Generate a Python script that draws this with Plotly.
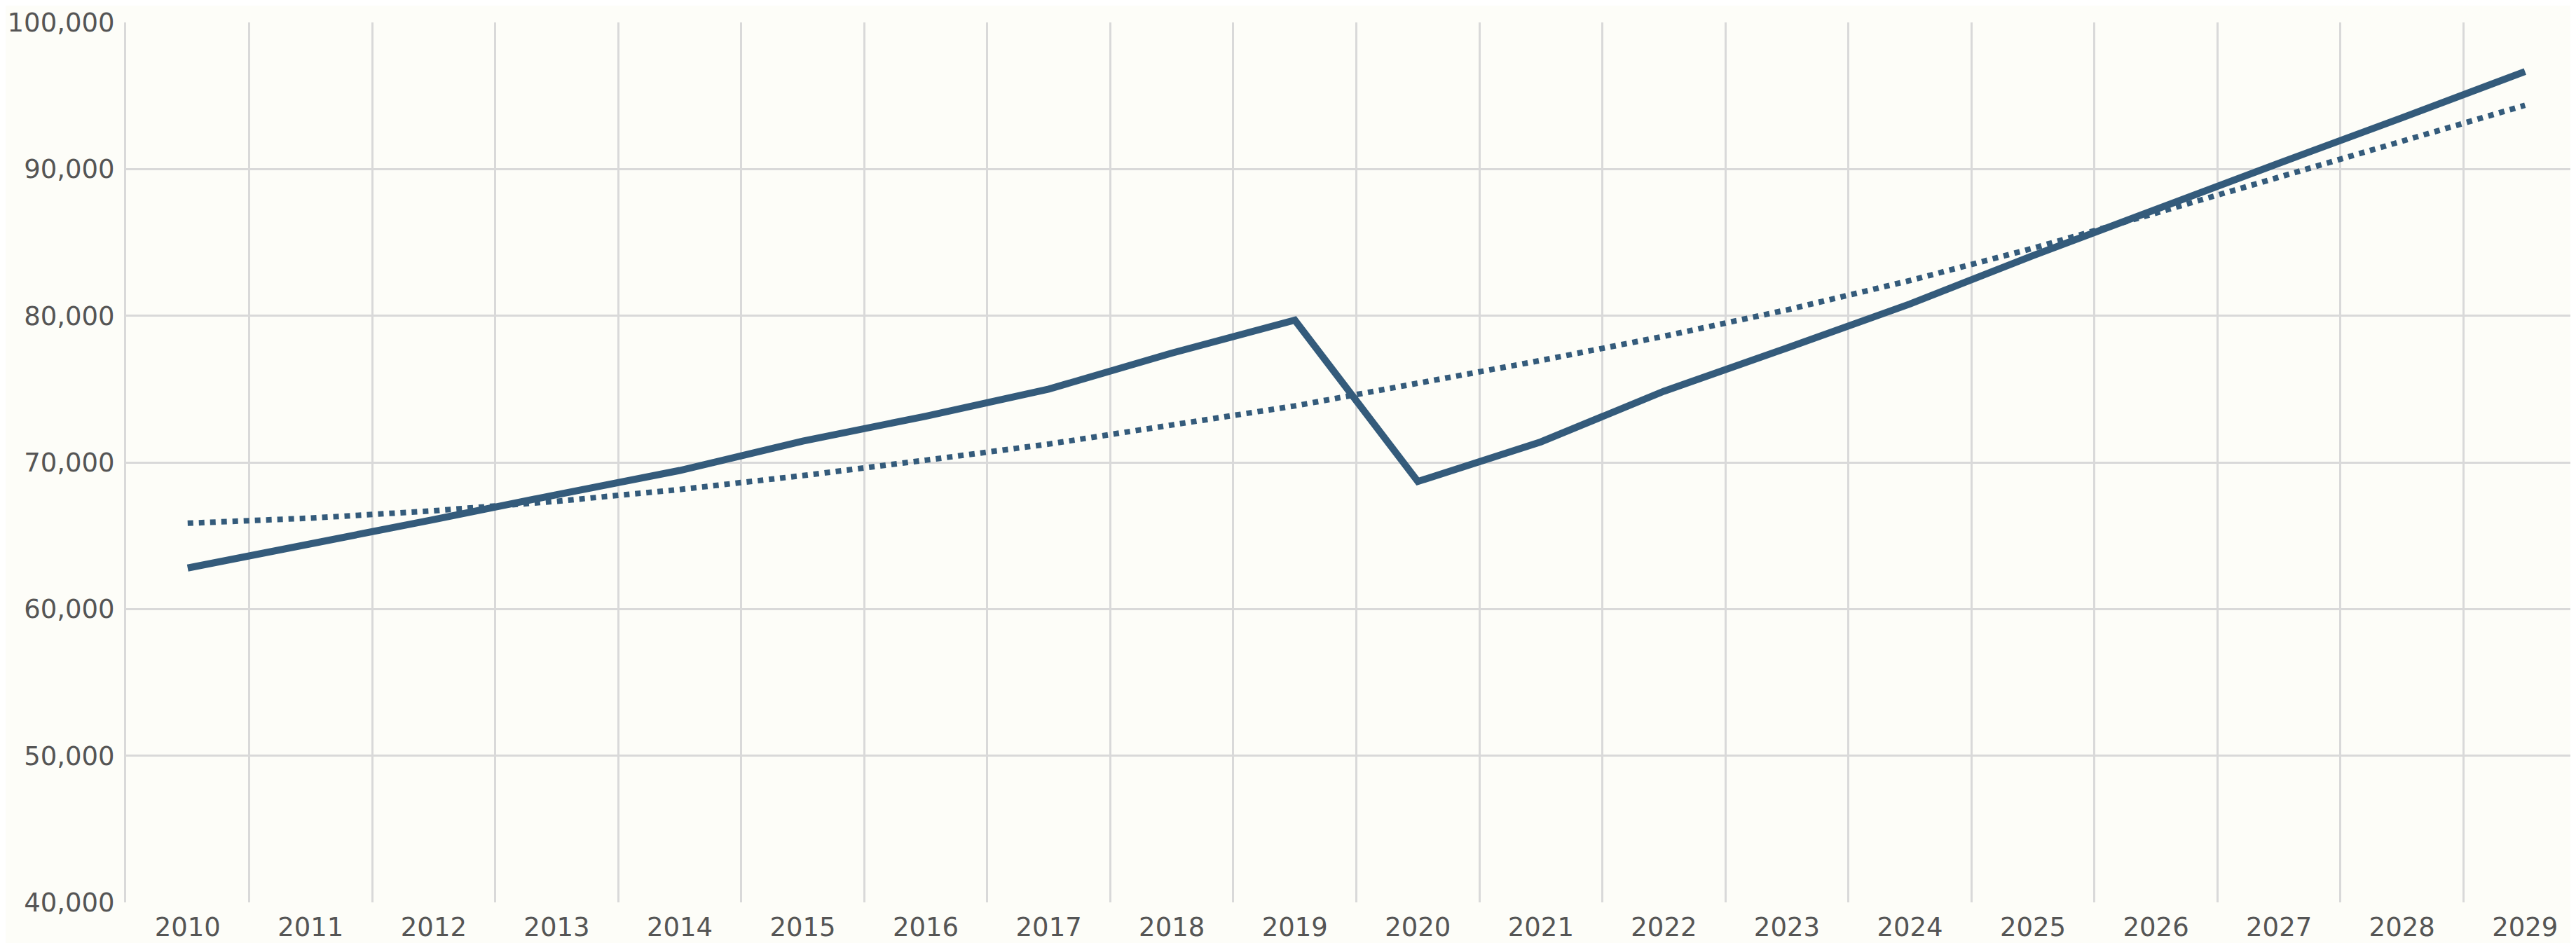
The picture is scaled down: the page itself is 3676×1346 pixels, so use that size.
import plotly.graph_objects as go

years = [str(y) for y in range(2010, 2030)]
actual = [62800, 64400, 66100, 67800, 69450, 71450, 73150, 75000, 77450, 79700,
          68700, 71400, 74850, 77800, 80800, 84100, 87300, 90400, 93500, 96650]
trend = [65850, 66200, 66700, 67350, 68150, 69100, 70150, 71250, 72550, 73850,
         75400, 76950, 78600, 80400, 82400, 84600, 87000, 89450, 91850, 94350]
y_ticks = [40000, 50000, 60000, 70000, 80000, 90000, 100000]

LINE = "#345B7B"
BG = "#FDFDF8"
GRID = "#D9D9D9"
FONT = dict(family="DejaVu Sans", size=37, color="#555555")

fig = go.Figure()
fig.add_trace(go.Scatter(x=years, y=trend, mode="lines",
                         line=dict(color=LINE, width=8, dash="8px,8px"),
                         hoverinfo="skip", showlegend=False))
fig.add_trace(go.Scatter(x=years, y=actual, mode="lines",
                         line=dict(color=LINE, width=10),
                         showlegend=False))

fig.update_layout(
    width=3676, height=1346,
    margin=dict(l=172, r=0, t=24, b=66),
    paper_bgcolor=BG, plot_bgcolor=BG,
    font=FONT,
)
fig.update_xaxes(type="category", range=[-0.5, 19.46], tickson="boundaries",
                 automargin=False,
                 showgrid=True, gridcolor=GRID, gridwidth=2.5,
                 ticks="", ticklabelstandoff=10,
                 showline=False, zeroline=False, tickfont=FONT)
fig.update_yaxes(range=[40000, 100000], tickvals=y_ticks, tickformat=",",
                 automargin=False,
                 showgrid=True, gridcolor=GRID, gridwidth=3,
                 ticks="", ticklabelstandoff=6,
                 showline=True, linecolor=GRID, linewidth=3,
                 zeroline=False, tickfont=FONT)

fig.write_html("out.html")
